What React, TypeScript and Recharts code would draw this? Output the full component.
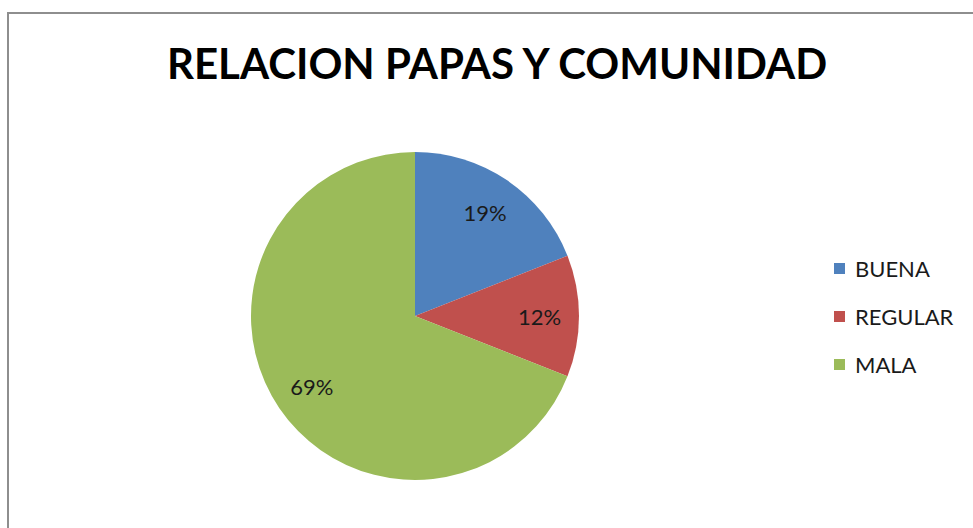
import { Legend, Pie, PieChart, Cell } from "recharts";

const categories = ["BUENA", "REGULAR", "MALA"];
const shares = [19, 12, 69];
const sliceColors = ["#4f81bd", "#c0504d", "#9bbb59"];

const pieData = categories.map((name, i) => ({ name, value: shares[i] }));

const RADIAN = Math.PI / 180;
const FONT = "Lato, 'Open Sans', sans-serif";

type LabelProps = {
  cx?: number;
  cy?: number;
  midAngle?: number;
  outerRadius?: number;
  value?: number;
};

function SliceLabel({ cx = 0, cy = 0, midAngle = 0, outerRadius = 0, value }: LabelProps) {
  const r = outerRadius * 0.76;
  const x = cx + r * Math.cos(-midAngle * RADIAN);
  const y = cy + r * Math.sin(-midAngle * RADIAN);
  return (
    <text
      x={x}
      y={y}
      fill="#1a1a1a"
      fontSize={22}
      fontFamily={FONT}
      textAnchor="middle"
      dominantBaseline="central"
    >
      {`${value}%`}
    </text>
  );
}

function LegendList() {
  return (
    <div style={{ fontFamily: FONT, fontSize: 22, color: "#1a1a1a" }}>
      {categories.map((name, i) => (
        <div
          key={name}
          style={{ display: "flex", alignItems: "center", height: 48 }}
        >
          <span
            style={{
              width: 11,
              height: 11,
              background: sliceColors[i],
              marginRight: 10,
              display: "inline-block",
            }}
          />
          {name}
        </div>
      ))}
    </div>
  );
}

export default function App() {
  return (
    <div style={{ position: "relative", width: 973, height: 528, background: "#fff", overflow: "hidden" }}>
      <style>{`body{margin:0}`}</style>
      <div
        style={{
          position: "absolute",
          left: 7,
          top: 12,
          width: 1000,
          height: 600,
          border: "2px solid #8e8e8e",
        }}
      />
      <div
        style={{
          position: "absolute",
          left: 0,
          width: 994,
          top: 38,
          textAlign: "center",
          fontFamily: FONT,
          fontWeight: 700,
          fontSize: 42,
          color: "#000",
        }}
      >
        RELACION PAPAS Y COMUNIDAD
      </div>
      <div style={{ position: "absolute", left: 0, top: 0 }}>
        <PieChart width={973} height={528} margin={{ top: 0, right: 0, bottom: 0, left: 0 }}>
          <Pie
            data={pieData}
            dataKey="value"
            nameKey="name"
            cx={415}
            cy={316}
            outerRadius={164}
            startAngle={90}
            endAngle={-270}
            stroke="none"
            label={SliceLabel}
            labelLine={false}
            isAnimationActive={false}
          >
            {pieData.map((d, i) => (
              <Cell key={d.name} fill={sliceColors[i]} />
            ))}
          </Pie>
          <Legend
            content={<LegendList />}
            wrapperStyle={{ left: 834, top: 244, width: 140 }}
          />
        </PieChart>
      </div>
    </div>
  );
}
